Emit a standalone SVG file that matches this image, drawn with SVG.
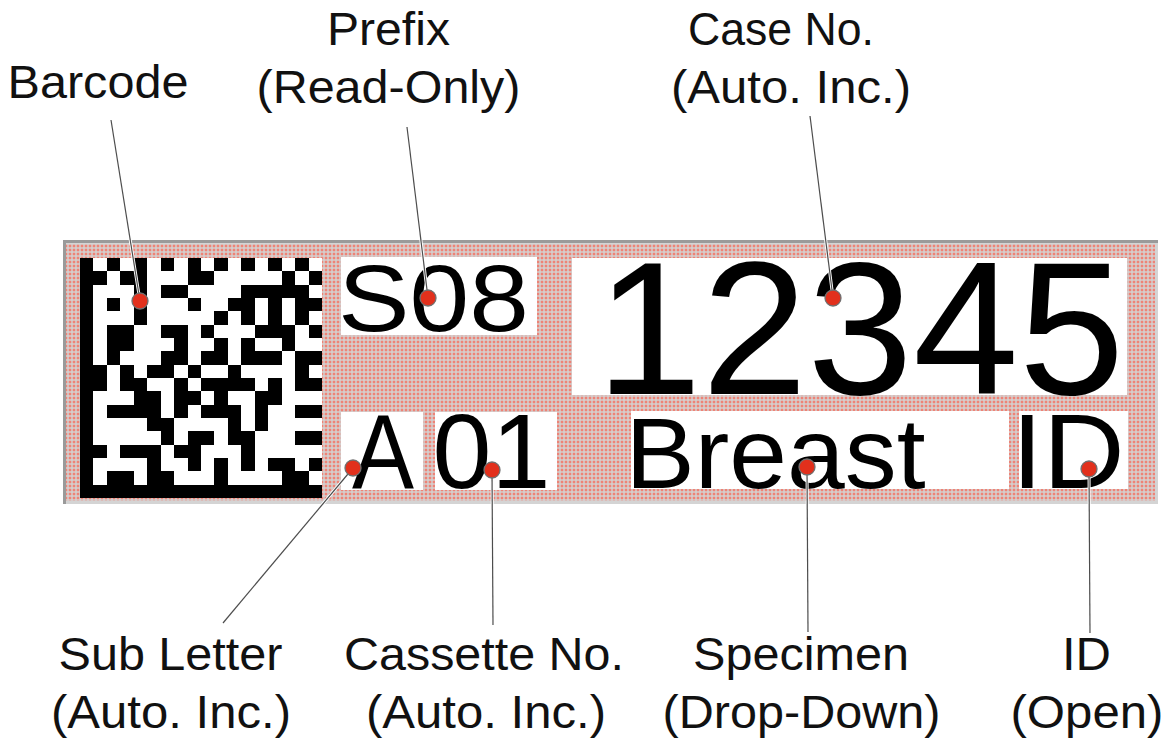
<svg xmlns="http://www.w3.org/2000/svg" width="1169" height="740" viewBox="0 0 1169 740">
<defs>
<style>
.lbl{font-family:"Liberation Sans",Arial,Helvetica,sans-serif;font-size:46px;fill:#111;text-anchor:middle}
.fld{font-family:"Liberation Sans",Arial,Helvetica,sans-serif;fill:#000}
.box{fill:#fff}
.halo{stroke:#fff;stroke-width:3;fill:none}
.lead{stroke:#4d4d4d;stroke-width:1.2;fill:none;marker-end:url(#dot)}
</style>
<pattern id="dots" width="4" height="4" patternUnits="userSpaceOnUse"><rect width="4" height="4" fill="#d4d4d4"/><rect x="0.7" y="0.7" width="2.6" height="2.6" fill="#ee8376"/></pattern>
<marker id="dot" markerWidth="22" markerHeight="22" refX="11" refY="11" markerUnits="userSpaceOnUse" viewBox="0 0 22 22"><circle cx="11" cy="11" r="8" fill="#e2301c" stroke="#707070" stroke-width="1.3"/></marker>
</defs>
<rect width="1169" height="740" fill="#fff"/>
<g id="label-panel">
<rect x="63" y="240" width="1095" height="264" fill="#d4d4d4"/>
<rect x="66" y="244" width="1089" height="257" fill="url(#dots)"/>
<path d="M64.5 504V241.5H1158" stroke="#9a9a9a" stroke-width="3" fill="none"/>
</g>
<g id="barcode">
<rect x="80" y="258" width="242" height="240" fill="#fff"/>
<path transform="translate(80 258) scale(13.444 13.333)" shape-rendering="crispEdges" fill="#000" d="M0 0h1v18h-1zM0 17h18v1h-18zM2 0h1v1h-1zM4 0h1v1h-1zM6 0h1v1h-1zM8 0h1v1h-1zM10 0h1v1h-1zM12 0h1v1h-1zM14 0h1v1h-1zM16 0h1v1h-1zM1 1h1v1h-1zM3 1h2v1h-2zM8 1h2v1h-2zM15 1h1v1h-1zM17 1h1v1h-1zM4 2h1v1h-1zM6 2h2v1h-2zM12 2h5v1h-5zM2 3h1v1h-1zM4 3h1v1h-1zM8 3h1v1h-1zM11 3h2v1h-2zM14 3h1v1h-1zM16 3h2v1h-2zM4 4h1v1h-1zM10 4h1v1h-1zM12 4h1v1h-1zM14 4h1v1h-1zM16 4h1v1h-1zM2 5h2v1h-2zM6 5h2v1h-2zM9 5h1v1h-1zM13 5h3v1h-3zM17 5h1v1h-1zM2 6h2v1h-2zM7 6h1v1h-1zM10 6h1v1h-1zM12 6h1v1h-1zM15 6h1v1h-1zM2 7h1v1h-1zM6 7h2v1h-2zM9 7h2v1h-2zM12 7h3v1h-3zM16 7h2v1h-2zM1 8h1v1h-1zM3 8h1v1h-1zM5 8h2v1h-2zM8 8h1v1h-1zM11 8h1v1h-1zM16 8h1v1h-1zM1 9h1v1h-1zM3 9h2v1h-2zM7 9h1v1h-1zM9 9h4v1h-4zM14 9h1v1h-1zM16 9h2v1h-2zM4 10h2v1h-2zM7 10h2v1h-2zM10 10h1v1h-1zM13 10h2v1h-2zM2 11h4v1h-4zM7 11h1v1h-1zM9 11h3v1h-3zM13 11h1v1h-1zM16 11h2v1h-2zM5 12h2v1h-2zM11 12h1v1h-1zM13 12h1v1h-1zM6 13h1v1h-1zM8 13h2v1h-2zM11 13h2v1h-2zM16 13h2v1h-2zM1 14h1v1h-1zM3 14h3v1h-3zM7 14h2v1h-2zM12 14h1v1h-1zM5 15h1v1h-1zM8 15h1v1h-1zM10 15h1v1h-1zM12 15h1v1h-1zM14 15h2v1h-2zM17 15h1v1h-1zM2 16h2v1h-2zM5 16h2v1h-2zM10 16h1v1h-1zM15 16h2v1h-2z"/>
</g>
<g id="field-prefix"><rect class="box" x="341" y="257" width="196" height="78"/><text class="fld" x="338" y="331" font-size="95" textLength="191" lengthAdjust="spacingAndGlyphs">S08</text></g>
<g id="field-case-no"><rect class="box" x="572" y="258" width="555" height="137"/><text class="fld" x="596" y="394" font-size="190">12345</text></g>
<g id="field-sub-letter"><rect class="box" x="341" y="412" width="82" height="78"/><text class="fld" x="352" y="488" font-size="106" textLength="62" lengthAdjust="spacingAndGlyphs">A</text></g>
<g id="field-cassette-no"><rect class="box" x="435" y="412" width="122" height="78"/><text class="fld" x="432.5" y="488" font-size="106">01</text></g>
<g id="field-specimen"><rect class="box" x="631" y="411" width="378" height="78"/><text class="fld" x="625.5" y="488" font-size="100" textLength="300" lengthAdjust="spacingAndGlyphs">Breast</text></g>
<g id="field-id"><rect class="box" x="1019" y="411" width="109" height="78"/><text class="fld" x="1011.5" y="488" font-size="106" textLength="113" lengthAdjust="spacingAndGlyphs">ID</text></g>
<g id="connectors">
<path class="halo" d="M111 120L140 301M407 127L428 298M810 116L833 298M223 623L353 468M493 625L492 470M808 632L807 467M1090 633L1089 469"/>
<path class="lead" d="M111 120L140 301"/>
<path class="lead" d="M407 127L428 298"/>
<path class="lead" d="M810 116L833 298"/>
<path class="lead" d="M223 623L353 468"/>
<path class="lead" d="M493 625L492 470"/>
<path class="lead" d="M808 632L807 467"/>
<path class="lead" d="M1090 633L1089 469"/>
</g>
<g id="label-barcode"><text class="lbl" x="98" y="98" textLength="181" lengthAdjust="spacingAndGlyphs">Barcode</text></g>
<g id="label-prefix"><text class="lbl" x="388.5" y="45" textLength="123" lengthAdjust="spacingAndGlyphs">Prefix</text><text class="lbl" x="388.5" y="103" textLength="264" lengthAdjust="spacingAndGlyphs">(Read-Only)</text></g>
<g id="label-case-no"><text class="lbl" x="781" y="45" font-size="45" textLength="186" lengthAdjust="spacingAndGlyphs">Case No.</text><text class="lbl" x="791" y="103" textLength="240" lengthAdjust="spacingAndGlyphs">(Auto. Inc.)</text></g>
<g id="label-sub-letter"><text class="lbl" x="170.5" y="670" textLength="224" lengthAdjust="spacingAndGlyphs">Sub Letter</text><text class="lbl" x="171" y="728" textLength="240" lengthAdjust="spacingAndGlyphs">(Auto. Inc.)</text></g>
<g id="label-cassette-no"><text class="lbl" x="484" y="670" textLength="280" lengthAdjust="spacingAndGlyphs">Cassette No.</text><text class="lbl" x="486" y="728" textLength="240" lengthAdjust="spacingAndGlyphs">(Auto. Inc.)</text></g>
<g id="label-specimen"><text class="lbl" x="801" y="670" textLength="216" lengthAdjust="spacingAndGlyphs">Specimen</text><text class="lbl" x="801.5" y="728" textLength="278" lengthAdjust="spacingAndGlyphs">(Drop-Down)</text></g>
<g id="label-id"><text class="lbl" x="1086.5" y="670" textLength="49" lengthAdjust="spacingAndGlyphs">ID</text><text class="lbl" x="1087" y="728" textLength="153" lengthAdjust="spacingAndGlyphs">(Open)</text></g>
</svg>
